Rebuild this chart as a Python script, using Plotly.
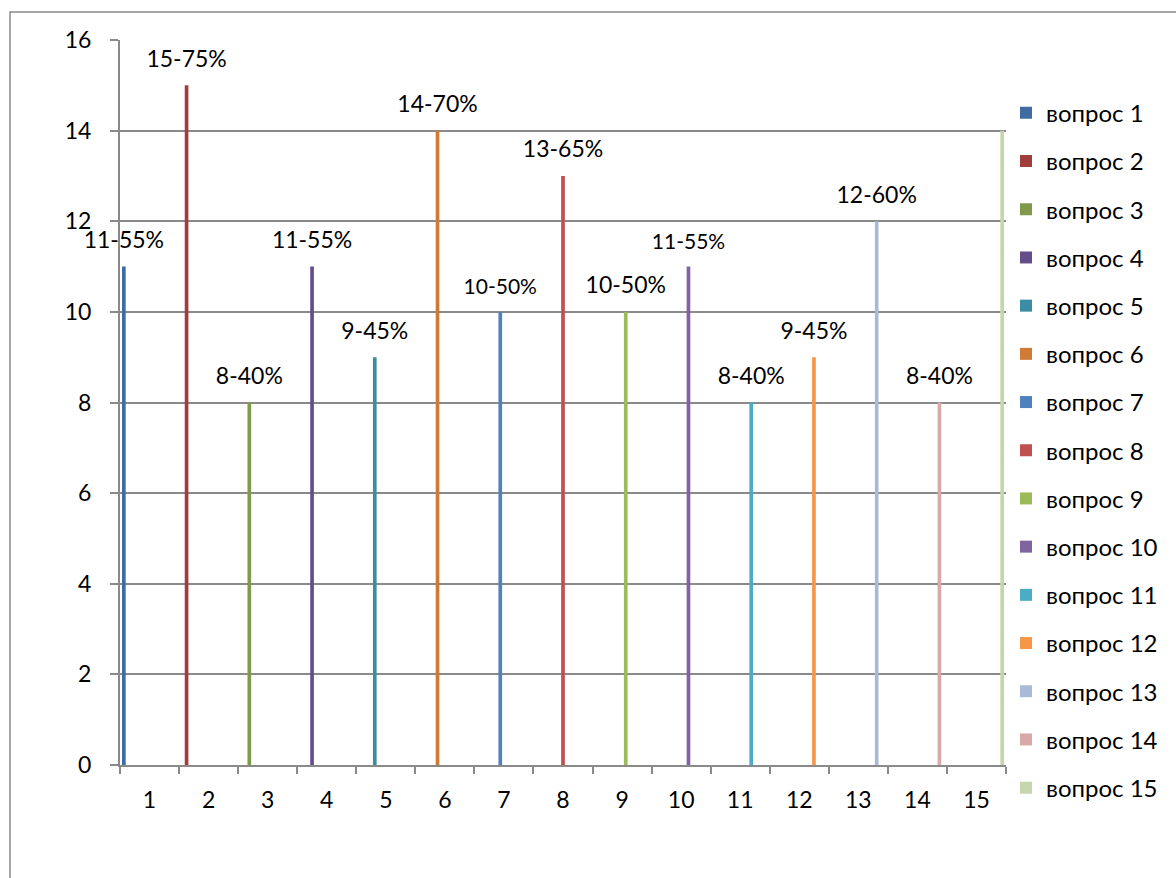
import plotly.graph_objects as go

categories = [str(i) for i in range(1, 16)]
series_names = [f"вопрос {i}" for i in range(1, 16)]
values = [11, 15, 8, 11, 9, 14, 10, 13, 10, 11, 8, 9, 12, 8, 14]
labels = ["11-55%", "15-75%", "8-40%", "11-55%", "9-45%", "14-70%", "10-50%",
          "13-65%", "10-50%", "11-55%", "8-40%", "9-45%", "12-60%", "8-40%", ""]
label_sizes = [23, 23, 23, 23, 23, 23, 21, 23, 23, 21, 23, 23, 23, 23, 23]
colors = ["#3F6CA2", "#A03E3B", "#7F9A48", "#654D89", "#3A8DA4", "#CF7B36",
          "#4F81BD", "#C0504D", "#9BBB59", "#8064A2", "#4BACC6", "#F79646",
          "#AAB9D8", "#D9A9A9", "#C6D6AC"]

FONT = "Lato, 'Open Sans', 'DejaVu Sans', sans-serif"
GRID = "#8a8a8a"
LABEL_PAD = 0.3  # gap (in value units) between bar top and its label

fig = go.Figure()
for i, name in enumerate(series_names):
    yv = [values[i] if j == i else None for j in range(len(categories))]
    fig.add_trace(go.Bar(
        x=categories, y=yv, name=name, marker=dict(color=colors[i], line=dict(width=0)),
        offsetgroup=str(i), legendgroup=f"g{i}",
    ))
for i, name in enumerate(series_names):
    if not labels[i]:
        continue
    yv = [LABEL_PAD if j == i else None for j in range(len(categories))]
    tv = [labels[i] if j == i else "" for j in range(len(categories))]
    fig.add_trace(go.Bar(
        x=categories, y=yv, base=values[i], offsetgroup=str(i),
        marker=dict(color="rgba(0,0,0,0)", line=dict(width=0)),
        text=tv, textposition="outside", textangle=0, constraintext="none",
        cliponaxis=False, textfont=dict(size=label_sizes[i], color="#000000", family=FONT),
        showlegend=False, hoverinfo="skip",
    ))

fig.update_layout(
    width=1176, height=878,
    margin=dict(l=120, r=170, t=40, b=113),
    barmode="group", bargap=0.068, bargroupgap=0,
    paper_bgcolor="white", plot_bgcolor="white",
    font=dict(family=FONT, size=23, color="#000000"),
    legend=dict(x=1.0, xanchor="left", y=0.93, yanchor="top",
                font=dict(size=24, family=FONT), tracegroupgap=14,
                traceorder="grouped", bgcolor="rgba(0,0,0,0)"),
    xaxis=dict(type="category", showline=True, linecolor=GRID, linewidth=2,
               ticks="outside", tickson="boundaries", ticklen=7, tickcolor=GRID,
               tickwidth=2, showgrid=False, ticklabelstandoff=13,
               tickfont=dict(size=23, family=FONT)),
    yaxis=dict(range=[0, 16], dtick=2, showline=True, linecolor=GRID, linewidth=2,
               ticks="outside", ticklen=8, tickcolor=GRID, tickwidth=2,
               showgrid=True, gridcolor=GRID, gridwidth=2, zeroline=False,
               ticklabelstandoff=14, tickfont=dict(size=23, family=FONT)),
    shapes=[dict(type="rect", xref="paper", yref="paper",
                 x0=(10 - 120) / 886, x1=2.0, y0=-1.0, y1=1 + (40 - 12) / 725,
                 line=dict(color=GRID, width=1.5), layer="below")],
)

fig.write_html("out.html", config={"displayModeBar": False},
               post_script="document.body.style.margin='0';")
